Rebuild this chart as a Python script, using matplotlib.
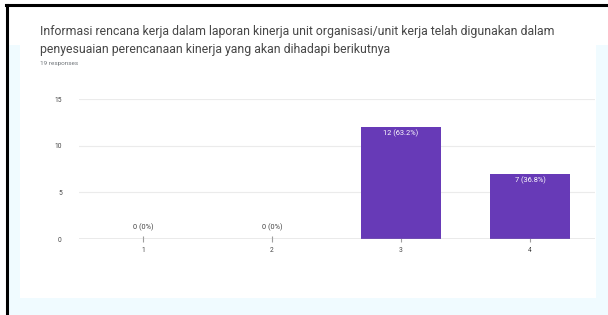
import matplotlib
matplotlib.use("Agg")
import matplotlib.pyplot as plt
from matplotlib.patches import Rectangle
from matplotlib.lines import Line2D

title = ("Informasi rencana kerja dalam laporan kinerja unit organisasi/unit kerja telah digunakan dalam\n"
         "penyesuaian perencanaan kinerja yang akan dihadapi berikutnya")
subtitle = "19 responses"
categories = ["1", "2", "3", "4"]
values = [0, 0, 12, 7]
bar_labels = ["0 (0%)", "0 (0%)", "12 (63.2%)", "7 (36.8%)"]
yticks = [0, 5, 10, 15]

W, H = 608, 315
fig = plt.figure(figsize=(W / 100, H / 100), dpi=100)
fig.patch.set_facecolor("white")
plt.rcParams["font.family"] = ["Roboto", "DejaVu Sans"]

def fx(px):
    return px / W

def fy(py):
    return 1 - py / H

bg = "#f0fbff"
fig.add_artist(Rectangle((fx(8), fy(315)), fx(600), fy(45) - fy(315), transform=fig.transFigure,
                         facecolor=bg, edgecolor="none", zorder=0))
fig.add_artist(Rectangle((fx(20), fy(298)), fx(576), fy(45) - fy(298), transform=fig.transFigure,
                         facecolor="white", edgecolor="none", zorder=0))
fig.add_artist(Line2D([fx(6), 1], [fy(5), fy(5)], transform=fig.transFigure, color="black", lw=2.2, zorder=5))
fig.add_artist(Line2D([fx(7), fx(7)], [fy(5), 0], transform=fig.transFigure, color="black", lw=2.2, zorder=5))

lines = title.split("\n")
fig.text(fx(40), fy(32), lines[0], ha="left", va="center", fontsize=8.8, color="#474747")
fig.text(fx(40), fy(50), lines[1], ha="left", va="center", fontsize=8.8, color="#474747")
fig.text(fx(40), fy(64), subtitle, ha="left", va="center", fontsize=4.6, color="#70757a")

ax = fig.add_axes([fx(78.5), fy(239), fx(594.5) - fx(78.5), fy(99) - fy(239)])
ax.set_facecolor("none")
x = list(range(1, len(categories) + 1))
bars = ax.bar(x, values, width=0.62, color="#673ab7", zorder=3)
ax.set_xlim(0.5, 4.5)
ax.set_ylim(0, 15)
ax.set_yticks(yticks)
ax.set_yticklabels([str(v) for v in yticks], fontsize=4.8, color="#444444")
ax.set_xticks(x)
ax.set_xticklabels(categories, fontsize=4.8, color="#444444")
ax.grid(axis="y", color="#ebebeb", lw=0.8, zorder=0)
for s in ax.spines.values():
    s.set_visible(False)
ax.axhline(0, color="#9e9e9e", lw=1.0, zorder=4)
ax.tick_params(axis="y", length=0, pad=12)
ax.tick_params(axis="x", length=5, direction="inout", color="#9e9e9e", width=0.8, pad=3)

for xi, v, lab in zip(x, values, bar_labels):
    if v == 0:
        ax.text(xi, 0.85, lab, ha="center", va="bottom", fontsize=5.3, color="#444444", zorder=5)
    else:
        ax.text(xi, v - 0.3, lab, ha="center", va="top", fontsize=5.3, color="white", zorder=5)

fig.savefig("out.png", dpi=100, facecolor=fig.get_facecolor())
